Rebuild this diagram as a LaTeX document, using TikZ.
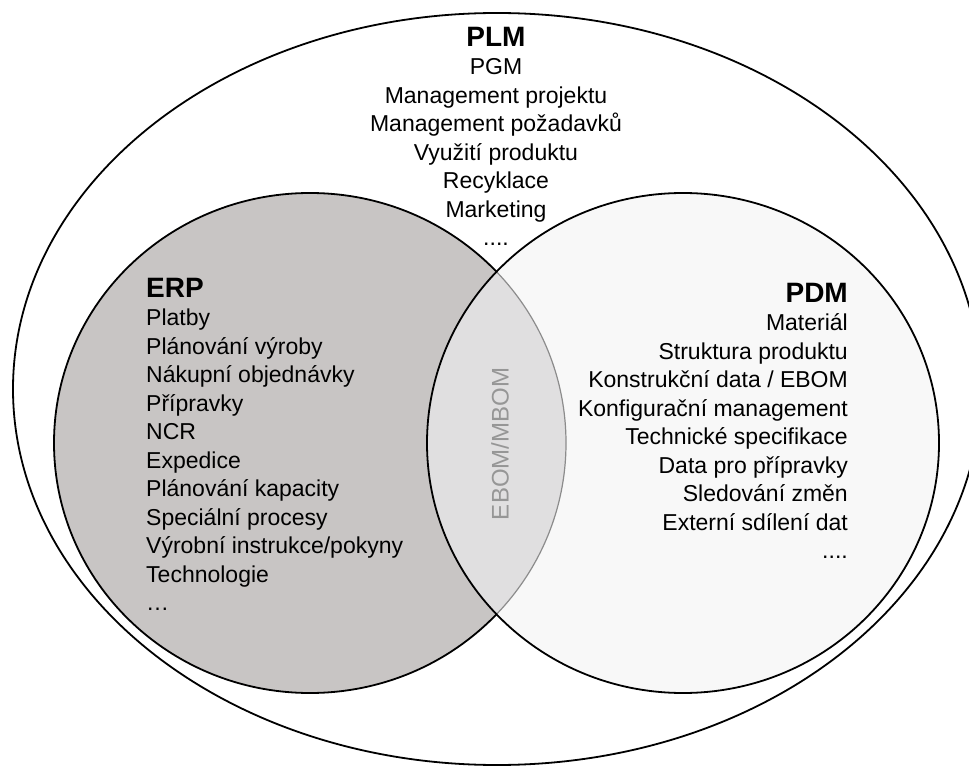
\documentclass[tikz,border=0pt]{standalone}
\usepackage{fontspec}
\setmainfont{Liberation Sans}
\definecolor{erpfill}{RGB}{200,197,196}
\definecolor{pdmfill}{RGB}{248,248,248}
\definecolor{mixfill}{RGB}{224,223,224}
\definecolor{arcgrey}{RGB}{140,140,140}
\definecolor{bomtext}{RGB}{150,150,150}
\newcommand\blocktitlefont{\fontsize{28}{28.5}\selectfont\bfseries}
\begin{document}
\begin{tikzpicture}[x=1pt,y=-1pt,
  outline/.style={line width=1.8pt, draw=black},
  blocktext/.style={inner sep=0pt, font=\fontsize{23}{28.5}\selectfont}]
\useasboundingbox (0,0) rectangle (969,767);
\clip (0,0) rectangle (969,767);

% ERP set
\fill[erpfill] (310,443) ellipse [x radius=256, y radius=250];
\draw[outline] (310,443) ellipse [x radius=256, y radius=250];
% PDM set
\fill[pdmfill] (683,443) ellipse [x radius=256, y radius=250];
% overlap of ERP and PDM
\begin{scope}
  \clip (683,443) ellipse [x radius=256, y radius=250];
  \fill[mixfill] (310,443) ellipse [x radius=256, y radius=250];
  \draw[line width=1.2pt, draw=arcgrey] (310,443) ellipse [x radius=256, y radius=250];
\end{scope}
\draw[outline] (683,443) ellipse [x radius=256, y radius=250];
% PLM set
\draw[outline] (497,389) ellipse [x radius=484, y radius=376];

% PLM items
\node[blocktext, align=center, anchor=north] (plm) at (496,27)
  {{\blocktitlefont PLM}\\PGM\\Management projektu\\Management požadavků\\Využití produktu\\Recyklace\\Marketing\\....};
% ERP items
\node[blocktext, align=left, anchor=north west] (erp) at (146,278)
  {{\blocktitlefont ERP}\\Platby\\Plánování výroby\\Nákupní objednávky\\Přípravky\\NCR\\Expedice\\Plánování kapacity\\Speciální procesy\\Výrobní instrukce/pokyny\\Technologie\\…};
% PDM items
\node[blocktext, align=right, anchor=north east] (pdm) at (848,283)
  {{\blocktitlefont PDM}\\Materiál\\Struktura produktu\\Konstrukční data / EBOM\\Konfigurační management\\Technické specifikace\\Data pro přípravky\\Sledování změn\\Externí sdílení dat\\....};
% shared structure
\node[inner sep=0pt, rotate=90, text=bomtext, font=\fontsize{24}{24}\selectfont] (bom) at (500,444) {EBOM/MBOM};
\end{tikzpicture}
\end{document}
